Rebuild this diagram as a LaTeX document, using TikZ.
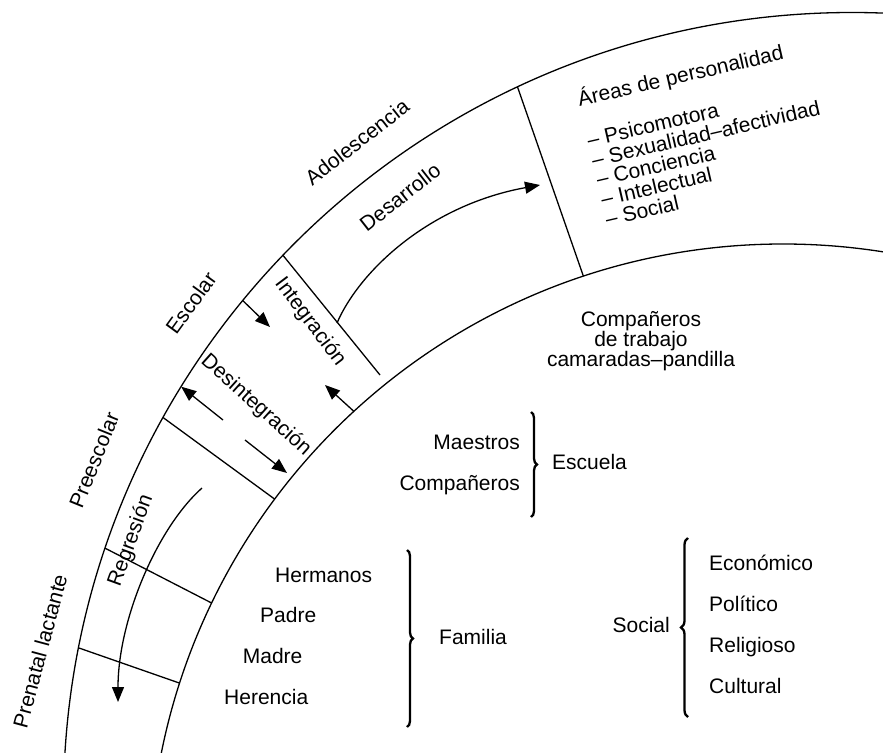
\documentclass[tikz,border=0pt]{standalone}
\usepackage{fontspec}
\setmainfont{Liberation Sans}
\usetikzlibrary{arrows.meta,decorations.pathreplacing}
\begin{document}
\begin{tikzpicture}[x=1pt,y=-1pt,
  lbl/.style={font=\fontsize{21}{21}\selectfont, inner sep=0pt},
  ln/.style={line width=1.3pt},
  arr/.style={line width=1.3pt, -{Triangle[length=15pt,width=12pt]}},
  br/.style={line width=2.3pt, decorate, decoration={brace, amplitude=6pt}}
]
\path[use as bounding box] (0,0) rectangle (883,752);
\coordinate (C1) at (852,801);
\coordinate (C2) at (783,878);
\begin{scope}
  \clip (0,0) rectangle (883,752);
  \draw[ln] (C1) circle[radius=788.5];
  \draw[ln] (C2) circle[radius=634];
\end{scope}

% radial dividers
\path (C1) ++(191.2:788.5) coordinate (o1);
\path (C1) ++(198.7:788.5) coordinate (o2);
\path (C1) ++(209.1:788.5) coordinate (o3);
\path (C1) ++(223.8:788.5) coordinate (o4);
\path (C1) ++(244.9:788.5) coordinate (o5);
\path (C2) ++(197.9:634) coordinate (i1);
\path (C2) ++(205.7:634) coordinate (i2);
\path (C2) ++(216.7:634) coordinate (i3);
\coordinate (i4) at (380,375);
\path (C2) ++(251.65:634) coordinate (i5);
\draw[ln] (o1) -- (i1);
\draw[ln] (o2) -- (i2);
\draw[ln] (o3) -- (i3);
\draw[ln] (o4) -- (i4);
\draw[ln] (o5) -- (i5);

% arrows
\path (C1) ++(219.4:788.5) coordinate (a1s);
\coordinate (a1e) at (270,327);
\draw[arr] (a1s) -- (a1e);
\coordinate (a2s) at (223,420);
\path (C1) ++(211.7:788.5) coordinate (a2e);
\draw[arr] (a2s) -- (a2e);
\coordinate (a3s) at (245,440);
\coordinate (a3e) at (287,473);
\draw[arr] (a3s) -- (a3e);
\path (C2) ++(227.4:634) coordinate (a4s);
\coordinate (a4e) at (325,385);
\draw[arr] (a4s) -- (a4e);
\coordinate (rs) at (202,488);
\coordinate (re) at (118,702);
\draw[arr] (rs) .. controls (157,528) and (118,620) .. (re);
\coordinate (ds) at (337,323);
\coordinate (de) at (540,185);
\draw[arr] (ds) .. controls (360,270) and (430,205) .. (de);

% stage labels
\node[lbl, rotate=75] (prenatal) at (40,651) {Prenatal lactante};
\node[lbl, rotate=68] (preesc) at (94,460) {Preescolar};
\node[lbl, rotate=54] (escolar) at (191,303) {Escolar};
\node[lbl, rotate=38] (adol) at (357,142) {Adolescencia};
\node[lbl, rotate=38] (desarrollo) at (400,197) {Desarrollo};
\node[lbl, rotate=-53] (integ) at (310,322) {Integración};
\node[lbl, rotate=-42] (desint) at (256,405) {Desintegración};
\node[lbl, rotate=70] (regres) at (131,541) {Regresión};

% areas
\begin{scope}[shift={(579.5,106.5)}, rotate=13, transform shape]
  \node[lbl, anchor=base west] (areas) at (0,0) {Áreas de personalidad};
  \node[lbl, anchor=base west] (psico) at (0,41.9) {– Psicomotora};
  \node[lbl, anchor=base west] (sexu) at (0,62.2) {– Sexualidad–afectividad};
  \node[lbl, anchor=base west] (conc) at (0,82.5) {– Conciencia};
  \node[lbl, anchor=base west] (intel) at (0,102.8) {– Intelectual};
  \node[lbl, anchor=base west] (soci) at (0,123.1) {– Social};
\end{scope}

% companeros de trabajo
\node[lbl, anchor=base] (ct1) at (641,326.7) {Compañeros};
\node[lbl, anchor=base] (ct2) at (641,346.7) {de trabajo};
\node[lbl, anchor=base] (ct3) at (641,366.7) {camaradas–pandilla};

% escuela
\node[lbl, anchor=base east] (maestros) at (520,449.3) {Maestros};
\node[lbl, anchor=base east] (comp) at (520,490) {Compañeros};
\draw[br] (531,412) -- (531,517);
\node[lbl, anchor=base west] (escuela) at (552,469) {Escuela};

% familia
\node[lbl, anchor=base west] (herm) at (275,582.3) {Hermanos};
\node[lbl, anchor=base west] (padre) at (260,622.3) {Padre};
\node[lbl, anchor=base west] (madre) at (242.7,663.3) {Madre};
\node[lbl, anchor=base west] (heren) at (224,704.3) {Herencia};
\draw[br] (407,550) -- (407,727);
\node[lbl, anchor=base west] (familia) at (439,644) {Familia};

% social
\node[lbl, anchor=base east] (social) at (670,632.3) {Social};
\draw[br, decoration={brace, amplitude=7pt}] (688,717) -- (688,538);
\node[lbl, anchor=base west] (econ) at (709,570.7) {Económico};
\node[lbl, anchor=base west] (poli) at (709,611.7) {Político};
\node[lbl, anchor=base west] (reli) at (709,652.7) {Religioso};
\node[lbl, anchor=base west] (cult) at (709,693.3) {Cultural};
\end{tikzpicture}
\end{document}
